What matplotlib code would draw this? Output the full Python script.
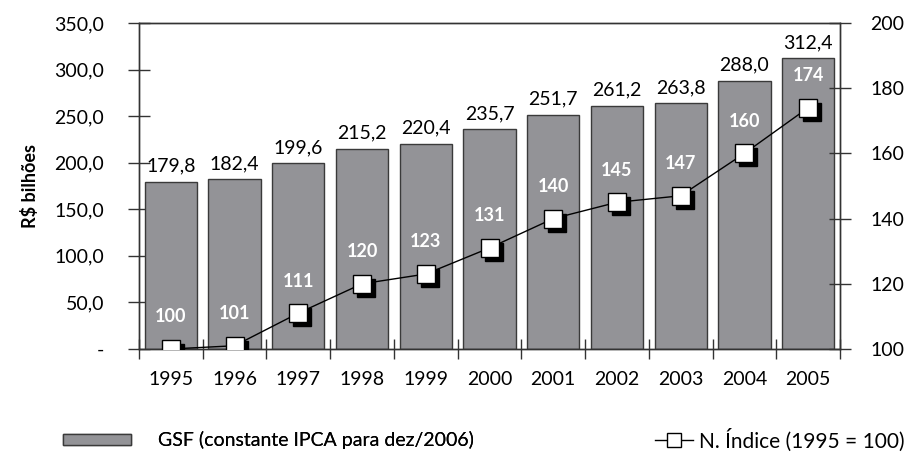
import matplotlib
matplotlib.use("Agg")
import matplotlib.pyplot as plt
import matplotlib.transforms as mtransforms
from matplotlib.patches import Patch
from matplotlib.lines import Line2D
import numpy as np

plt.rcParams['font.family'] = ['Lato', 'DejaVu Sans']

years = ["1995", "1996", "1997", "1998", "1999", "2000", "2001", "2002", "2003", "2004", "2005"]
gsf = [179.8, 182.4, 199.6, 215.2, 220.4, 235.7, 251.7, 261.2, 263.8, 288.0, 312.4]
indice = [100, 101, 111, 120, 123, 131, 140, 145, 147, 160, 174]
left_ticks = [0, 50, 100, 150, 200, 250, 300, 350]
right_ticks = [100, 120, 140, 160, 180, 200]

bar_color = "#939397"
edge_color = "#3a3a3a"
fs = 14

fig = plt.figure(figsize=(9.07, 4.59), dpi=100)
ax = fig.add_axes([139/907, 1-349/459, (840-139)/907, (349-23)/459])
ax2 = ax.twinx()

x = np.arange(len(years))
bars = ax.bar(x, gsf, width=0.82, color=bar_color, edgecolor=edge_color, linewidth=1.0, zorder=2)
ax.set_xlim(-0.5, len(years) - 0.5)
ax.set_ylim(0, 350)
ax.set_yticks(left_ticks)
ax.set_yticklabels(["-" if v == 0 else f"{v:.1f}".replace(".", ",") for v in left_ticks], fontsize=fs)
ax.set_xticks(x)
ax.set_xticklabels(years, fontsize=fs)
ax.set_xticks(np.arange(-0.5, len(years)), minor=True)
ax.tick_params(axis='x', which='major', length=0, pad=16)
ax.tick_params(axis='x', which='minor', direction='inout', length=14, width=1.0, color="#333333")
ax.tick_params(axis='y', direction='inout', length=16, width=1.0, color="#333333", pad=17)

for b, v in zip(bars, gsf):
    ax.annotate(f"{v:.1f}".replace(".", ","), (b.get_x() + b.get_width()/2, v),
                xytext=(0, 5), textcoords='offset points', ha='center', va='bottom', fontsize=fs)

ax2.set_ylim(100, 200)
ax2.set_yticks(right_ticks)
ax2.set_yticklabels([str(v) for v in right_ticks], fontsize=fs)
ax2.tick_params(axis='y', direction='inout', length=16, width=1.0, color="#333333", pad=14)

shadow = mtransforms.offset_copy(ax2.transData, fig=fig, x=4, y=-4, units='dots')
ax2.plot(x, indice, color="black", linewidth=1.0, zorder=3)
ax2.plot(x, indice, linestyle='none', marker='s', markersize=12.5, color="black", transform=shadow, zorder=4)
ax2.plot(x, indice, linestyle='none', marker='s', markersize=12.5, markerfacecolor="white",
         markeredgecolor="black", markeredgewidth=1.0, zorder=5)
for xi, v in zip(x, indice):
    ax2.annotate(str(v), (xi, v), xytext=(0, 17), textcoords='offset points', ha='center', va='bottom',
                 fontsize=13, fontweight='bold', color='white', zorder=6)

for a in (ax, ax2):
    for s in a.spines.values():
        s.set_color("#333333")
        s.set_linewidth(1.0)
ax.set_zorder(1)
ax2.set_zorder(2)
ax.patch.set_visible(False)

fig.text(30/907, 1-186/459, r"R\$ bilhões", rotation=90, ha='center', va='center', fontsize=13, fontweight='bold')

h1 = Patch(facecolor=bar_color, edgecolor=edge_color, linewidth=1.0)
leg1 = fig.legend([h1], ["GSF (constante IPCA para dez/2006)"], loc='center left',
                  bbox_to_anchor=(55/907, 1-440/459), frameon=False, fontsize=fs,
                  handlelength=3.5, handleheight=0.5, handletextpad=1.4, borderaxespad=0)
h2 = Line2D([], [], color='black', linewidth=1.0, marker='s', markersize=10,
            markerfacecolor='white', markeredgecolor='black')
leg2 = fig.legend([h2], ["N. Índice (1995 = 100)"], loc='center right',
                  bbox_to_anchor=(913/907, 1-440/459), frameon=False, fontsize=15,
                  handlelength=1.8, handletextpad=0.3, borderaxespad=0)
fig.add_artist(leg1)

fig.savefig("out.png", dpi=100)
